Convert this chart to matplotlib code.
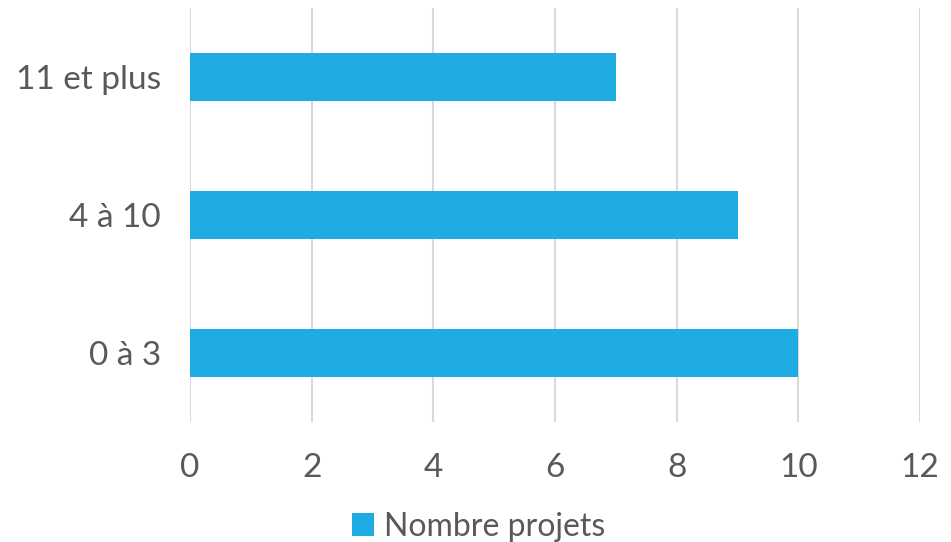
import matplotlib.pyplot as plt

categories = ["0 à 3", "4 à 10", "11 et plus"]
values = [10, 9, 7]
xticks = [0, 2, 4, 6, 8, 10, 12]

plt.rcParams['font.family'] = ['Lato', 'DejaVu Sans']

fig = plt.figure(figsize=(9.51, 5.42), dpi=100)
ax = fig.add_axes([0.1998, 0.2214, 0.7676, 0.7638])

ax.barh(categories, values, height=0.35, color='#1EACE3', label='Nombre projets', zorder=3)

ax.set_xlim(0, 12)
ax.set_ylim(-0.5, 2.5)
ax.set_xticks(xticks)
ax.grid(axis='x', color='#D9D9D9', linewidth=1.5, zorder=0)
for s in ax.spines.values():
    s.set_visible(False)
ax.tick_params(length=0, labelsize=24, labelcolor='#595959')
ax.tick_params(axis='x', pad=22)
ax.tick_params(axis='y', pad=21)

fig.legend(loc='center', bbox_to_anchor=(0.503, 0.028), frameon=False,
           fontsize=23, labelcolor='#595959', handlelength=0.7, handleheight=0.7,
           handletextpad=0.3, borderpad=0)

fig.savefig('out.png', dpi=100)
